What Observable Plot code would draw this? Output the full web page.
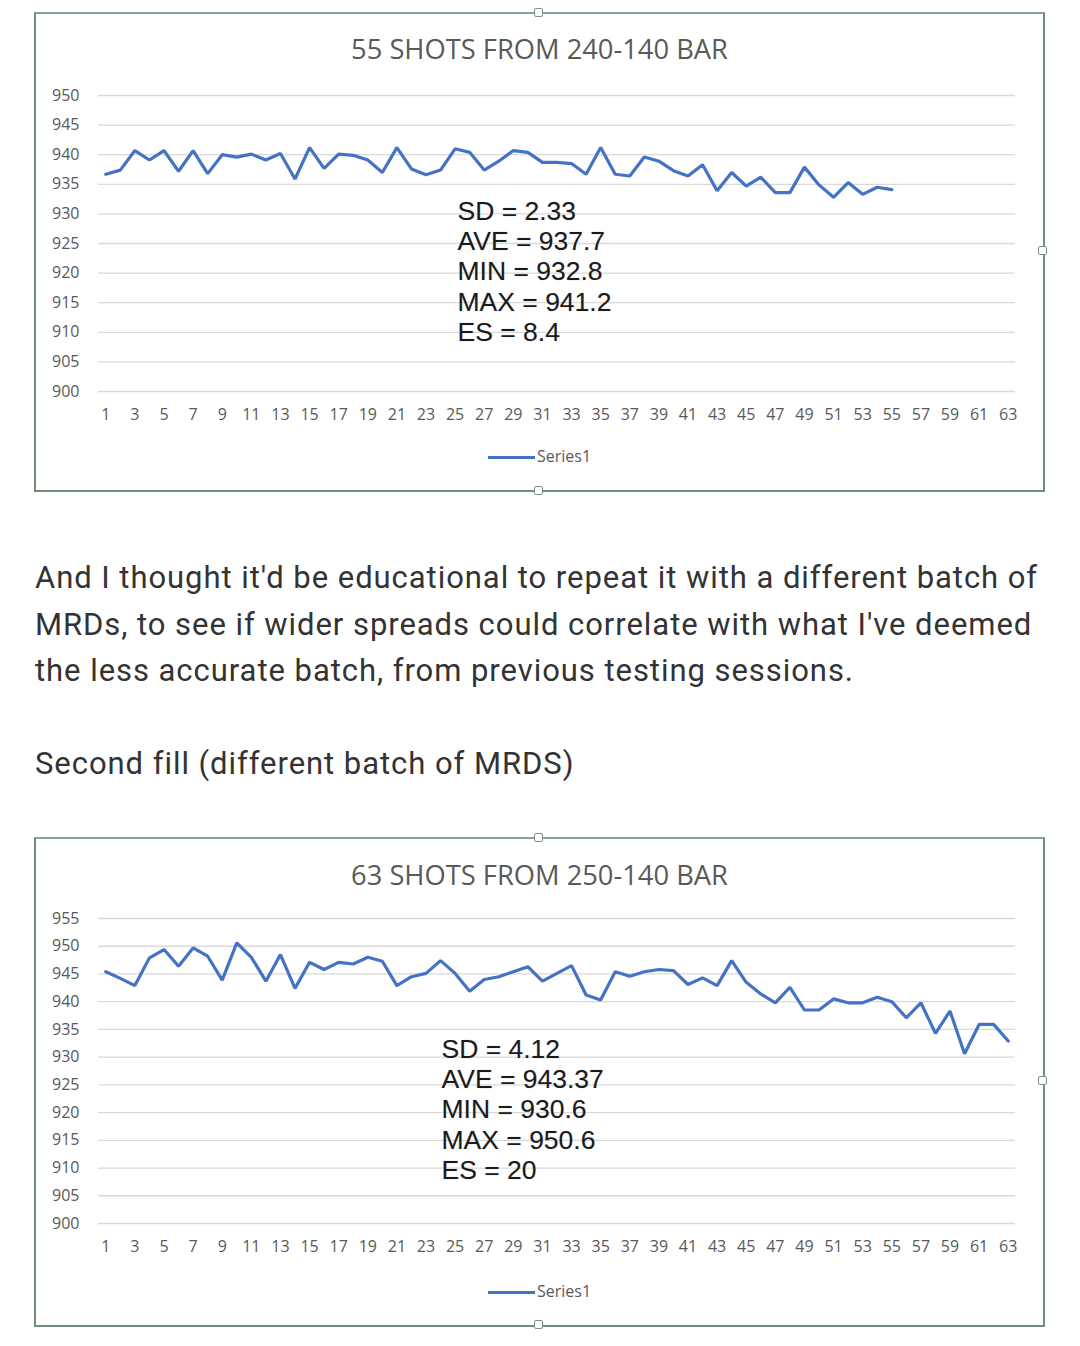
<!DOCTYPE html>
<html>
<head>
<meta charset="utf-8">
<script src="https://cdn.jsdelivr.net/npm/d3@7"></script>
<script src="https://cdn.jsdelivr.net/npm/@observablehq/plot@0.6"></script>
<style>
  html, body { margin: 0; padding: 0; background: #fff; }
  #page { position: relative; width: 1080px; height: 1346px; overflow: hidden; background: #fff; }
  .box { position: absolute; left: 34px; width: 1007px; border: 2px solid #6f8f78; border-top-color: #8aa290; background: #fff; }
  .title { position: absolute; left: 0; right: 0; text-align: center; font-family: "Open Sans", sans-serif; font-size: 27.3px; color: #595959; }
  .plotwrap { position: absolute; left: 0; }
  .legend { position: absolute; left: 0; right: 0; text-align: center; font-family: "Open Sans", sans-serif; font-size: 16px; color: #595959; }
  .legend .sw { display: inline-block; width: 47px; height: 3px; background: #4472C4; vertical-align: middle; margin-right: 2px; }
  .para { position: absolute; left: 35px; width: 1030px; font-family: Roboto, sans-serif; font-size: 31px; letter-spacing: 0.95px; line-height: 46.5px; color: #333; }
  .handle { position: absolute; width: 7px; height: 7px; border: 1.5px solid #7f8f84; background: #fff; border-radius: 2px; }
</style>
</head>
<body>
<div id="page">
  <div class="box" id="box1" style="top:12px;height:476px;">
    <div class="title" style="top:16px;">55 SHOTS FROM 240-140 BAR</div>
    <div class="plotwrap" id="plot1" style="top:48px;"></div>
    <div class="legend" style="top:431px;"><span class="sw"></span>Series1</div>
  </div>
  <div class="para" style="top:555px;">And I thought it'd be educational to repeat it with a different batch of MRDs, to see if wider spreads could correlate with what I've deemed the less accurate batch, from previous testing sessions.</div>
  <div class="para" style="top:741px;">Second fill (different batch of MRDS)</div>
  <div class="box" id="box2" style="top:837px;height:486px;">
    <div class="title" style="top:17px;">63 SHOTS FROM 250-140 BAR</div>
    <div class="plotwrap" id="plot2" style="top:46px;"></div>
    <div class="legend" style="top:441px;"><span class="sw"></span>Series1</div>
  </div>
  <div class="handle" style="left:534px;top:8px;"></div>
  <div class="handle" style="left:534px;top:486px;"></div>
  <div class="handle" style="left:1038px;top:246px;"></div>
  <div class="handle" style="left:534px;top:833px;"></div>
  <div class="handle" style="left:534px;top:1320px;"></div>
  <div class="handle" style="left:1038px;top:1076px;"></div>
</div>
<script>
// ---- data ----
const xTicks = d3.range(1, 64, 2);
const yTicks1 = [900, 905, 910, 915, 920, 925, 930, 935, 940, 945, 950];
const yTicks2 = [900, 905, 910, 915, 920, 925, 930, 935, 940, 945, 950, 955];

const shots1 = [
  936.7, 937.4, 940.7, 939.1, 940.7, 937.2, 940.7, 936.8, 940.0, 939.6,
  940.1, 939.1, 940.2, 935.9, 941.2, 937.7, 940.1, 939.9, 939.1, 937.0,
  941.2, 937.6, 936.6, 937.4, 941.0, 940.4, 937.4, 938.9, 940.7, 940.4,
  938.7, 938.7, 938.5, 936.7, 941.2, 936.7, 936.4, 939.6, 938.9, 937.3,
  936.4, 938.3, 933.9, 937.0, 934.7, 936.2, 933.6, 933.6, 937.9, 934.9,
  932.8, 935.3, 933.3, 934.5, 934.1
];
const shots2 = [
  945.4, 944.2, 942.9, 947.9, 949.4, 946.4, 949.7, 948.2, 943.9, 950.6,
  948.0, 943.7, 948.5, 942.4, 947.1, 945.8, 947.1, 946.8, 948.0, 947.3,
  942.9, 944.5, 945.1, 947.4, 945.1, 941.9, 944.0, 944.5, 945.4, 946.3,
  943.7, 945.1, 946.5, 941.2, 940.3, 945.4, 944.6, 945.4, 945.8, 945.6,
  943.1, 944.3, 942.9, 947.4, 943.5, 941.4, 939.8, 942.6, 938.5, 938.5,
  940.5, 939.8, 939.8, 940.8, 940.0, 937.1, 939.8, 934.3, 938.3, 930.6,
  935.9, 935.9, 932.9
];
const stats1 = ["SD = 2.33", "AVE = 937.7", "MIN = 932.8", "MAX = 941.2", "ES = 8.4"];
const stats2 = ["SD = 4.12", "AVE = 943.37", "MIN = 930.6", "MAX = 950.6", "ES = 20"];

function makeChart(values, yDomain, yTicks, stats, opts) {
  const rows = values.map((v, i) => ({shot: i + 1, fps: v}));
  return Plot.plot({
    width: 1005,
    height: opts.height,
    marginLeft: 62,
    marginRight: 26,
    marginTop: opts.marginTop,
    marginBottom: 40,
    style: {fontFamily: "'Open Sans', sans-serif", fontSize: "16px", color: "#595959", background: "transparent"},
    x: {domain: [0.5, 63.5], label: null},
    y: {domain: yDomain, label: null},
    marks: [
      Plot.gridY(yTicks, {stroke: "#d9d9d9", strokeOpacity: 1, strokeWidth: 1.3}),
      Plot.axisY(yTicks, {tickSize: 0, tickPadding: 19, label: null, fill: "#595959", fontSize: 16}),
      Plot.axisX(xTicks, {tickSize: 0, tickPadding: 17, label: null, fill: "#595959", tickFormat: d => String(d)}),
      Plot.line(rows, {x: "shot", y: "fps", stroke: "#4472C4", strokeWidth: 3.2, strokeLinejoin: "miter"}),
      Plot.text([stats.join("\n")], {
        frameAnchor: "top-left", textAnchor: "start", lineAnchor: "top",
        dx: opts.statsDx, dy: opts.statsDy, lineHeight: 1.14,
        fontFamily: "'Liberation Sans', Arial, sans-serif", fontSize: 26.5, fill: "#1a1a1a",
        stroke: "#d8d8d8", strokeWidth: 0.6
      })
    ]
  });
}

document.getElementById("plot1").append(
  makeChart(shots1, [900, 950], yTicks1, stats1, {height: 369, marginTop: 33, statsDx: 359, statsDy: 103})
);
document.getElementById("plot2").append(
  makeChart(shots2, [900, 955], yTicks2, stats2, {height: 378, marginTop: 33, statsDx: 343, statsDy: 118})
);
</script>
</body>
</html>
